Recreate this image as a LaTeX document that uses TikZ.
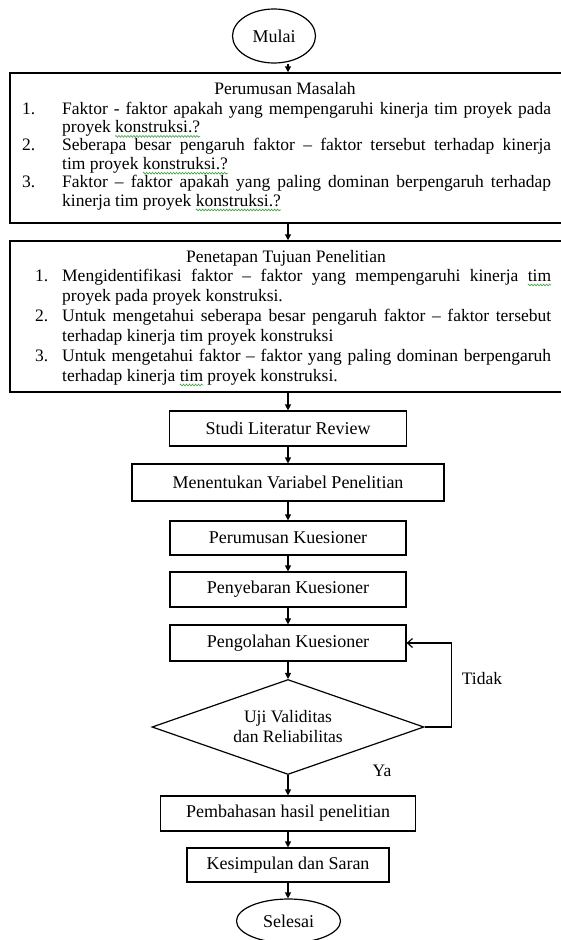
\documentclass[tikz,border=0pt]{standalone}
\usepackage{fontspec}
\setmainfont{Liberation Serif}
\usetikzlibrary{shapes.geometric,arrows.meta,decorations.pathmorphing}
\definecolor{sqgreen}{RGB}{60,160,60}
\newsavebox\gsqbox
\newcommand\gsq[1]{\sbox\gsqbox{#1}\rlap{\tikz[baseline=0pt]{\useasboundingbox (0pt,0pt); \draw[sqgreen, line width=0.6pt, decorate, decoration={zigzag, amplitude=0.9pt, segment length=3pt}] (0pt,-4pt) -- (\wd\gsqbox,-4pt);}}#1}
\newcommand\bodyfont{\fontsize{17.5pt}{20pt}\selectfont}
\newcommand\stepfont{\fontsize{18pt}{20pt}\selectfont}
\newcommand\parsetup{\parindent=0pt \hyphenpenalty=10000 \exhyphenpenalty=10000 \tolerance=9999 \hbadness=10000 \lineskiplimit=-20pt}
\begin{document}
\begin{tikzpicture}[x=1pt,y=-1pt,
  font=\bodyfont,
  every node/.style={inner sep=0pt},
  bigbox/.style={draw, line width=1.5pt, minimum width=556pt},
  stepbox/.style={draw, line width=1.2pt, align=center, font=\stepfont},
  term/.style={draw, ellipse, line width=1.2pt, font=\stepfont},
  arr/.style={line width=1.2pt, -{Triangle[length=6pt,width=6pt]}},
  backarr/.style={line width=1.2pt, -{Straight Barb[length=5pt,width=9pt]}},
]
\useasboundingbox (0,0) rectangle (560,940);

% start
\node[term, minimum width=83pt, minimum height=54pt] (mulai) at (274,36) {Mulai};

% box 1
\node[bigbox, minimum height=150pt] (pm) at (288,148) {};
\node[anchor=base] (pmt) at (285,94) {Perumusan Masalah};
\node[anchor=base west] (pml) at (22,114) {\vtop{\hsize=529pt \baselineskip=18.4pt \parsetup
\noindent\hangindent=40pt\hangafter=1\hbox to 40pt{1.\hfil}Faktor - faktor apakah yang mempengaruhi kinerja tim proyek pada\linebreak proyek \gsq{konstruksi.?}\par
\noindent\hangindent=40pt\hangafter=1\hbox to 40pt{2.\hfil}Seberapa besar pengaruh faktor – faktor tersebut terhadap kinerja\linebreak tim proyek \gsq{konstruksi.?}\par
\noindent\hangindent=40pt\hangafter=1\hbox to 40pt{3.\hfil}Faktor – faktor apakah yang paling dominan berpengaruh terhadap\linebreak kinerja tim proyek \gsq{konstruksi.?}\par}};

% box 2
\node[bigbox, minimum height=151pt] (pt) at (288,316.5) {};
\node[anchor=base] (ptt) at (286,262) {Penetapan Tujuan Penelitian};
\node[anchor=base west] (ptl) at (35,281) {\vtop{\hsize=516pt \baselineskip=20pt \parsetup
\noindent\hangindent=27pt\hangafter=1\hbox to 27pt{1.\hfil}Mengidentifikasi faktor – faktor yang mempengaruhi kinerja \gsq{tim}\linebreak proyek pada proyek konstruksi.\par
\noindent\hangindent=27pt\hangafter=1\hbox to 27pt{2.\hfil}Untuk mengetahui seberapa besar pengaruh faktor – faktor tersebut\linebreak terhadap kinerja tim proyek konstruksi\par
\noindent\hangindent=27pt\hangafter=1\hbox to 27pt{3.\hfil}Untuk mengetahui faktor – faktor yang paling dominan berpengaruh\linebreak terhadap kinerja \gsq{tim} proyek konstruksi.\par}};

% steps
\node[stepbox, minimum width=237pt, minimum height=35pt] (studi) at (288,428.5) {Studi Literatur Review};
\node[stepbox, minimum width=312pt, minimum height=37pt] (var) at (288,482.5) {Menentukan Variabel Penelitian};
\node[stepbox, minimum width=236pt, minimum height=34pt] (pk) at (288,538) {Perumusan Kuesioner};
\node[stepbox, minimum width=236pt, minimum height=35pt] (sk) at (288,589.5) {Penyebaran Kuesioner};
\node[stepbox, minimum width=236pt, minimum height=36pt] (ok) at (288,643) {Pengolahan Kuesioner};
\node[draw, diamond, shape aspect=2.86, line width=1.2pt, minimum width=272pt, minimum height=95pt, align=center] (uji) at (288,727) {Uji Validitas\\dan Reliabilitas};
\node[stepbox, minimum width=255pt, minimum height=35pt] (bahas) at (288,813.5) {Pembahasan hasil penelitian};
\node[stepbox, minimum width=202pt, minimum height=34pt] (simp) at (288,865) {Kesimpulan dan Saran};
\node[term, minimum width=104pt, minimum height=44pt] (selesai) at (288.5,921) {Selesai};

% labels
\node (tidak) at (482,679) {Tidak};
\node (ya) at (382,771) {Ya};

% connectors
\draw[arr] (mulai.south -| pm.north) -- (pm.north);
\draw[arr] (pm.south) -- (pt.north);
\draw[arr] (pt.south) -- (studi.north);
\draw[arr] (studi.south) -- (var.north);
\draw[arr] (var.south) -- (pk.north);
\draw[arr] (pk.south) -- (sk.north);
\draw[arr] (sk.south) -- (ok.north);
\draw[arr] (ok.south) -- (uji.north);
\draw[arr] (uji.south) -- (bahas.north);
\draw[arr] (bahas.south) -- (simp.north);
\draw[arr] (simp.south) -- (selesai.north -| simp.south);
\draw[backarr] (uji.east) -- ++(27,0) |- (ok.east);
\end{tikzpicture}
\end{document}
